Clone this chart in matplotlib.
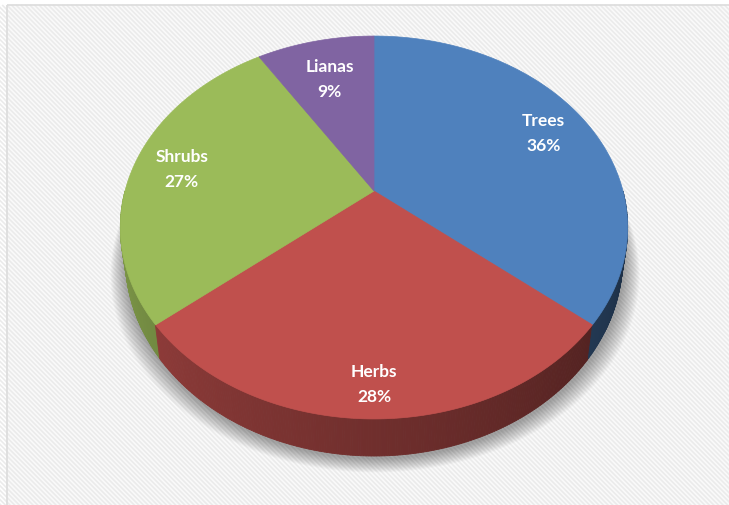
import numpy as np
import matplotlib.pyplot as plt
from matplotlib.patches import Polygon, Rectangle
from matplotlib.collections import LineCollection

# data
labels = ['Trees', 'Herbs', 'Shrubs', 'Lianas']
values = [36, 28, 27, 9]
colors = ['#4F81BD', '#C0504D', '#9BBB59', '#8064A2']

# label radial position (fraction of radius)
label_r = [0.8, 0.87, 0.8, 0.72]

# perspective pie geometry (pixel space)
cx, cy = 374, 192
A, B, p = 249, 184.5, 0.1906
depth = 30
bottom_shrink = 0.98


def proj(theta, r=1.0):
    u = r * np.cos(theta)
    v = r * np.sin(theta)
    s = 1.0 / (1.0 + p * v)
    return cx + A * u * s, cy - B * v * s, s


def proj_bottom(theta):
    x, y, s = proj(theta)
    return cx + (x - cx) * bottom_shrink, y + depth * s


def shade(c, f):
    c = np.array(plt.matplotlib.colors.to_rgb(c))
    return tuple(np.clip(c * f, 0, 1))


fig = plt.figure(figsize=(7.29, 5.06), dpi=100)
ax = fig.add_axes([0, 0, 1, 1])
ax.set_xlim(0, 729)
ax.set_ylim(506, 0)
ax.axis('off')

# chart area background with faint diagonal stripes
ax.add_patch(Rectangle((7, 6), 800, 600, facecolor='#fafafa', lw=0, zorder=0))
starts_x = np.arange(7 - 520, 740, 4.6)
segs = [[(x0, 6), (x0 + 520, 526)] for x0 in starts_x]
stripes = LineCollection(segs, colors='#ebebeb', linewidths=1.2, zorder=0.5)
stripes.set_clip_path(Rectangle((7, 6), 800, 600, transform=ax.transData))
ax.add_collection(stripes)
ax.plot([7, 800], [6, 6], color='#dcdcdc', lw=1.2, zorder=1, solid_capstyle='butt')
ax.plot([7, 7], [6, 600], color='#dcdcdc', lw=1.2, zorder=1, solid_capstyle='butt')

# slice angles, starting at 12 o'clock going clockwise
total = float(sum(values))
fracs = np.array(values) / total
bounds = np.cumsum(fracs) * 2 * np.pi
ends = np.pi / 2 - bounds
starts = np.concatenate([[np.pi / 2], ends[:-1]])

# soft shadow below the pie
t = np.linspace(0, 2 * np.pi, 300)
bx, by = proj_bottom(t)
for k in range(16, 0, -1):
    sx = cx + (bx - cx) * (1 + 0.004 * k) + 1
    sy = by + 2 + 0.9 * k
    ax.add_patch(Polygon(np.column_stack([sx, sy]), closed=True,
                         facecolor='black', alpha=0.022, lw=0, zorder=2))


def slice_of(theta):
    # angle travelled clockwise from 12 o'clock
    trav = np.mod(np.pi / 2 - theta, 2 * np.pi)
    return min(int(np.searchsorted(bounds, trav, side='right')), len(values) - 1)


# front side of the cylinder
n = 360
ths = np.linspace(np.pi, 2 * np.pi, n + 1)
for a0, a1 in zip(ths[:-1], ths[1:]):
    mid = 0.5 * (a0 + a1)
    i = slice_of(mid)
    deg = np.degrees(mid)
    f = 0.82 - 0.44 * (deg - 190) / 150
    f = min(max(f, 0.38), 0.84)
    xa, ya, _ = proj(a0)
    xb, yb, _ = proj(a1)
    xa2, ya2 = proj_bottom(a0)
    xb2, yb2 = proj_bottom(a1)
    quad = [(xa, ya), (xb, yb), (xb2, yb2), (xa2, ya2)]
    ax.add_patch(Polygon(quad, closed=True, facecolor=shade(colors[i], f),
                         edgecolor=shade(colors[i], f), lw=0.6, zorder=3))

# top faces
for i in range(len(values)):
    arc = np.linspace(starts[i], ends[i], 200)
    xs, ys, _ = proj(arc)
    pts = np.column_stack([np.concatenate([[cx], xs]), np.concatenate([[cy], ys])])
    ax.add_patch(Polygon(pts, closed=True, facecolor=colors[i], edgecolor=colors[i],
                         lw=0.5, zorder=4))

# labels
for i in range(len(values)):
    mid = 0.5 * (starts[i] + ends[i])
    lx, ly, _ = proj(mid, label_r[i])
    ax.text(lx, ly - 12, labels[i], color='white', fontsize=12.5, fontweight='bold',
            family='Lato', ha='center', va='center', zorder=5)
    ax.text(lx, ly + 13, '%d%%' % values[i], color='white', fontsize=12.5,
            fontweight='bold', family='Lato', ha='center', va='center', zorder=5)

fig.savefig('out.png', dpi=100)
